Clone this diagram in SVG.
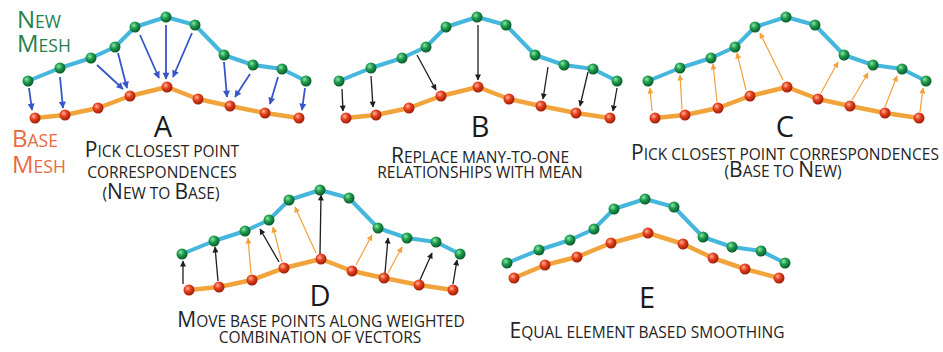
<svg xmlns="http://www.w3.org/2000/svg" xmlns:xlink="http://www.w3.org/1999/xlink" width="943" height="352" viewBox="0 0 943 352">
<defs>
<radialGradient id="gball" cx="0.38" cy="0.35" r="0.65"><stop offset="0" stop-color="#8ee6a8"/><stop offset="0.45" stop-color="#1f9e4e"/><stop offset="1" stop-color="#0a5a2a"/></radialGradient>
<radialGradient id="rball" cx="0.38" cy="0.35" r="0.65"><stop offset="0" stop-color="#ffb49a"/><stop offset="0.45" stop-color="#e6401e"/><stop offset="1" stop-color="#9c1f08"/></radialGradient>
<marker id="ab" viewBox="0 0 10 10" refX="9" refY="5" markerWidth="8" markerHeight="7" markerUnits="userSpaceOnUse" orient="auto"><path d="M0,0 L10,5 L0,10 z" fill="#3656c8"/></marker>
<marker id="ak" viewBox="0 0 10 10" refX="9" refY="5" markerWidth="7" markerHeight="6" markerUnits="userSpaceOnUse" orient="auto"><path d="M0,0 L10,5 L0,10 z" fill="#1e1e1e"/></marker>
<marker id="ao" viewBox="0 0 10 10" refX="9" refY="5" markerWidth="7" markerHeight="6" markerUnits="userSpaceOnUse" orient="auto"><path d="M0,0 L10,5 L0,10 z" fill="#f2a13c"/></marker>
<g id="newline"><polyline points="28,81 60,68 91,58 115,47 135,27 166,17 195,25 224,55 253,65 282,69 306,81"/></g>
<g id="newdots">
<circle cx="28" cy="81" r="5.5"/><circle cx="60" cy="68" r="5.5"/><circle cx="91" cy="58" r="5.5"/><circle cx="115" cy="47" r="5.5"/><circle cx="135" cy="27" r="5.5"/><circle cx="166" cy="17" r="5.5"/><circle cx="195" cy="25" r="5.5"/><circle cx="224" cy="55" r="5.5"/><circle cx="253" cy="65" r="5.5"/><circle cx="282" cy="69" r="5.5"/><circle cx="306" cy="81" r="5.5"/>
</g>
<g id="baseline"><polyline points="35,118 65,115 98,108 130,96 167,87 198,99 230,106 265,113 299,118"/></g>
<g id="basedots">
<circle cx="35" cy="118" r="5.5"/><circle cx="65" cy="115" r="5.5"/><circle cx="98" cy="108" r="5.5"/><circle cx="130" cy="96" r="5.5"/><circle cx="167" cy="87" r="5.5"/><circle cx="198" cy="99" r="5.5"/><circle cx="230" cy="106" r="5.5"/><circle cx="265" cy="113" r="5.5"/><circle cx="299" cy="118" r="5.5"/>
</g>
</defs>
<style>
.nl{fill:none;stroke:#45b6dc;stroke-width:4;stroke-linejoin:round;stroke-linecap:round}
.bl{fill:none;stroke:#f2a43c;stroke-width:4.5;stroke-linejoin:round;stroke-linecap:round}
.nd{fill:url(#gball)}
.bd{fill:url(#rball)}
.t{font-family:"Open Sans","Liberation Sans",sans-serif;text-transform:uppercase;fill:#242424;text-anchor:middle;font-size:15.5px}
.t .c{font-size:21px}
.L{font-family:"Open Sans","Liberation Sans",sans-serif;fill:#1a1a1a;text-anchor:middle;font-size:29px}
.lg,.lr{font-family:"Open Sans","Liberation Sans",sans-serif;text-transform:uppercase;font-size:17.5px}
.lg .c,.lr .c{font-size:24px}
.lg{fill:#25804c}
.lr{fill:#ea6a3e}
.ab{stroke:#3656c8;stroke-width:1.8;fill:none;marker-end:url(#ab)}
.ak{stroke:#1e1e1e;stroke-width:1.3;fill:none;marker-end:url(#ak)}
.ao{stroke:#f2a13c;stroke-width:1.2;fill:none;marker-end:url(#ao)}
</style>
<rect width="943" height="352" fill="#ffffff"/>

<g id="legend">
<text class="lg" x="17" y="28"><tspan class="c">N</tspan>ew</text>
<text class="lg" x="17" y="52"><tspan class="c">M</tspan>esh</text>
<text class="lr" x="12" y="147"><tspan class="c">B</tspan>ase</text>
<text class="lr" x="12" y="173"><tspan class="c">M</tspan>esh</text>
</g>

<g id="panelA">
<use xlink:href="#newline" class="nl"/>
<use xlink:href="#baseline" class="bl"/>
<text class="L" x="163" y="137">A</text>
<text class="t" x="162" y="157"><tspan class="c">P</tspan>ick closest point</text>
<text class="t" x="162" y="178">correspondences</text>
<text class="t" x="161" y="199">(<tspan class="c">N</tspan>ew to <tspan class="c">B</tspan>ase)</text>
</g>

<g id="panelB">
<use xlink:href="#newline" class="nl" transform="translate(311,0)"/>
<use xlink:href="#baseline" class="bl" transform="translate(311,0)"/>
<text class="L" x="480" y="137">B</text>
<text class="t" x="480" y="163"><tspan class="c">R</tspan>eplace many-to-one</text>
<text class="t" x="480" y="178">relationships with mean</text>
</g>

<g id="panelC">
<use xlink:href="#newline" class="nl" transform="translate(620,0)"/>
<use xlink:href="#baseline" class="bl" transform="translate(620,0)"/>
<text class="L" x="785" y="137">C</text>
<text class="t" x="785" y="160"><tspan class="c">P</tspan>ick closest point correspondences</text>
<text class="t" x="783" y="177">(<tspan class="c">B</tspan>ase to <tspan class="c">N</tspan>ew)</text>
</g>

<g id="panelD">
<use xlink:href="#newline" class="nl" transform="translate(154,173)"/>
<use xlink:href="#baseline" class="bl" transform="translate(154,172)"/>
<text class="L" x="320" y="306">D</text>
<text class="t" x="321" y="327"><tspan class="c">M</tspan>ove base points along weighted</text>
<text class="t" x="320" y="343">combination of vectors</text>
</g>

<g id="panelE">
<use xlink:href="#newline" class="nl" transform="translate(479,182)"/>
<polyline class="bl" points="514,278 545,265 577,257 611,243 648,233 683,244 713,258 745,269 779,278"/>
<text class="L" x="647" y="308">E</text>
<text class="t" x="647" y="338"><tspan class="c">E</tspan>qual element based smoothing</text>
</g>

<g id="connectors">
<g id="arrowsA">
<line class="ab" x1="29" y1="88" x2="32" y2="110"/>
<line class="ab" x1="60" y1="77" x2="63" y2="108"/>
<line class="ab" x1="97" y1="65" x2="123" y2="89"/>
<line class="ab" x1="118" y1="53" x2="127" y2="88"/>
<line class="ab" x1="140" y1="35" x2="159" y2="78"/>
<line class="ab" x1="166" y1="25" x2="166" y2="79"/>
<line class="ab" x1="192" y1="33" x2="173" y2="77"/>
<line class="ab" x1="224" y1="62" x2="227" y2="97"/>
<line class="ab" x1="250" y1="74" x2="235" y2="97"/>
<line class="ab" x1="278" y1="77" x2="270" y2="104"/>
<line class="ab" x1="305" y1="88" x2="302" y2="110"/>
</g>
<g id="arrowsB">
<line class="ak" x1="342" y1="89" x2="343" y2="111"/>
<line class="ak" x1="371" y1="76" x2="373" y2="107"/>
<line class="ak" x1="417" y1="55" x2="436" y2="90"/>
<line class="ak" x1="478" y1="25" x2="478" y2="80"/>
<line class="ak" x1="548" y1="67" x2="543" y2="99"/>
<line class="ak" x1="588" y1="72" x2="580" y2="106"/>
<line class="ak" x1="617" y1="88" x2="613" y2="111"/>
</g>
<g id="arrowsC">
<line class="ao" x1="652" y1="111" x2="650" y2="88"/>
<line class="ao" x1="682" y1="109" x2="680" y2="75"/>
<line class="ao" x1="717" y1="102" x2="713" y2="64"/>
<line class="ao" x1="746" y1="90" x2="737" y2="53"/>
<line class="ao" x1="783" y1="80" x2="760" y2="33"/>
<line class="ao" x1="821" y1="93" x2="838" y2="62"/>
<line class="ao" x1="852" y1="100" x2="868" y2="73"/>
<line class="ao" x1="885" y1="107" x2="897" y2="76"/>
<line class="ao" x1="920" y1="112" x2="923" y2="88"/>
</g>
<g id="arrowsD">
<line class="ak" x1="183" y1="284" x2="183" y2="261"/>
<line class="ak" x1="218" y1="281" x2="215" y2="247"/>
<line class="ao" x1="251" y1="274" x2="248" y2="238"/>
<line class="ak" x1="279" y1="262" x2="260" y2="229"/>
<line class="ao" x1="282" y1="262" x2="273" y2="227"/>
<line class="ao" x1="316" y1="253" x2="295" y2="207"/>
<line class="ak" x1="320" y1="254" x2="321" y2="195"/>
<line class="ao" x1="356" y1="265" x2="372" y2="235"/>
<line class="ak" x1="385" y1="273" x2="388" y2="238"/>
<line class="ao" x1="388" y1="273" x2="402" y2="247"/>
<line class="ak" x1="420" y1="280" x2="432" y2="253"/>
<line class="ak" x1="453" y1="284" x2="457" y2="260"/>
</g>
</g>

<g id="dotsA">
<use xlink:href="#newdots" class="nd"/>
<use xlink:href="#basedots" class="bd"/>
</g>
<g id="dotsB">
<use xlink:href="#newdots" class="nd" transform="translate(311,0)"/>
<use xlink:href="#basedots" class="bd" transform="translate(311,0)"/>
</g>
<g id="dotsC">
<use xlink:href="#newdots" class="nd" transform="translate(620,0)"/>
<use xlink:href="#basedots" class="bd" transform="translate(620,0)"/>
</g>
<g id="dotsD">
<use xlink:href="#newdots" class="nd" transform="translate(154,173)"/>
<use xlink:href="#basedots" class="bd" transform="translate(154,172)"/>
</g>
<g id="dotsE">
<use xlink:href="#newdots" class="nd" transform="translate(479,182)"/>
<g class="bd">
<circle cx="514" cy="278" r="5.5"/><circle cx="545" cy="265" r="5.5"/><circle cx="577" cy="257" r="5.5"/><circle cx="611" cy="243" r="5.5"/><circle cx="648" cy="233" r="5.5"/><circle cx="683" cy="244" r="5.5"/><circle cx="713" cy="258" r="5.5"/><circle cx="745" cy="269" r="5.5"/><circle cx="779" cy="278" r="5.5"/>
</g>
</g>
</svg>
